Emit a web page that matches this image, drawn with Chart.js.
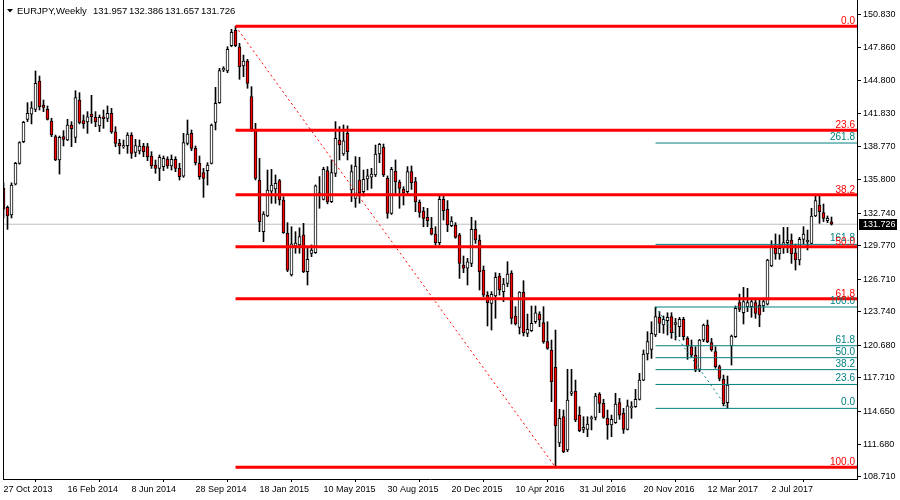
<!DOCTYPE html>
<html><head><meta charset="utf-8">
<script src="https://cdn.jsdelivr.net/npm/chart.js@4.4.1/dist/chart.umd.min.js"></script>
<style>html,body{margin:0;padding:0;background:#fff;}#wrap{width:900px;height:500px;}</style>
</head><body><div id="wrap"><canvas id="c" width="900" height="500"></canvas></div>
<script>
// ---- data ----
const symbolTitle = 'EURJPY,Weekly';
const lastBar = ['131.957', '132.386', '131.657', '131.726'];
const dateLabels = ['27 Oct 2013','16 Feb 2014','8 Jun 2014','28 Sep 2014','18 Jan 2015','10 May 2015','30 Aug 2015','20 Dec 2015','10 Apr 2016','31 Jul 2016','20 Nov 2016','12 Mar 2017','2 Jul 2017'];
const weeksPerLabel = 16;
const priceTicks = [150.830,147.860,144.800,141.830,138.770,135.800,132.740,129.770,126.710,123.740,120.680,117.710,114.650,111.680,108.710];

const opens = [135.0,133.27,132.57,135.39,137.28,139.25,141.29,141.75,142.2,144.78,
142.6,142.2,141.14,139.71,137.58,139.71,139.41,140.77,139.65,143.05,
141.17,141.05,141.78,141.47,140.68,141.53,141.38,141.84,140.14,139.1,
138.77,138.89,139.86,138.28,138.4,138.86,138.8,137.95,137.13,136.82,
136.97,137.67,137.04,137.64,136.82,136.12,139.1,140.01,138.65,137.28,
136.43,136.61,137.28,141.0,142.81,145.79,145.7,148.0,149.4,147.91,
146.15,146.61,143.36,140.2,135.76,131.05,132.48,134.75,134.94,135.7,
133.94,130.9,127.1,129.75,129.84,130.75,127.4,129.07,129.13,134.4,
134.0,136.61,133.79,136.37,139.41,138.13,140.02,134.85,134.09,135.76,
134.7,135.85,136.01,136.22,138.13,138.74,135.92,132.72,136.58,135.58,
134.91,134.7,136.52,135.61,133.72,132.93,132.36,131.35,130.84,130.05,
134.0,133.09,131.6,131.66,130.75,128.01,127.71,128.16,131.26,130.29,
127.55,125.27,124.51,125.18,127.01,125.58,126.34,127.25,123.36,122.33,
125.52,121.78,122.02,122.84,123.54,122.75,121.02,120.26,118.68,111.78,
114.2,111.14,116.3,116.52,114.33,113.03,113.03,114.0,114.12,116.25,
115.4,114.03,113.42,113.63,115.46,114.49,113.03,115.0,115.1,115.76,
117.52,119.9,120.32,121.63,123.24,122.54,122.93,123.3,122.6,122.39,
123.06,121.32,120.56,119.8,118.43,121.17,122.54,120.93,120.11,118.74,
117.59,115.46,120.63,121.48,124.58,123.66,124.21,124.21,124.58,124.36,
124.27,124.45,127.92,129.53,129.01,129.68,130.05,130.29,129.13,128.47,
130.35,130.11,129.98,132.48,133.48,132.78,132.05,131.957];
const highs = [135.5,133.4,135.5,137.37,139.25,141.11,142.81,142.9,145.7,145.24,
143.05,142.51,141.38,139.86,139.77,140.26,141.29,141.08,143.9,143.72,
141.69,141.99,143.48,141.99,141.69,142.14,142.51,142.29,140.62,139.47,
139.41,140.07,140.07,139.47,139.41,139.1,139.1,138.34,137.58,138.04,
137.95,137.88,138.04,137.88,137.28,140.01,141.23,140.32,138.86,137.95,
136.82,137.34,140.87,144.21,145.94,146.09,147.91,149.5,149.78,148.22,
147.15,146.76,144.27,140.93,137.73,132.87,136.67,136.73,136.22,135.82,
134.24,131.87,131.5,131.05,131.4,131.81,129.68,129.84,135.31,136.07,
136.92,136.98,137.59,141.08,140.63,140.78,140.69,137.13,137.89,137.83,
136.67,136.74,136.83,138.95,139.1,139.04,136.13,136.92,137.59,135.76,
135.15,136.98,137.04,136.0,133.94,133.27,133.18,132.36,131.5,134.39,
134.39,133.88,132.42,131.87,130.9,128.83,128.62,132.36,132.05,130.75,
127.92,125.58,125.58,127.31,127.25,126.79,128.31,127.49,124.21,125.58,
126.58,123.54,124.27,124.27,123.75,124.21,122.84,121.17,122.08,114.85,
114.79,118.5,118.5,117.52,115.09,114.18,114.18,114.24,116.31,116.37,
115.76,114.79,114.33,116.31,115.85,114.94,115.7,115.55,116.67,118.13,
120.26,121.93,122.84,124.18,123.75,123.36,123.66,123.66,123.15,123.24,
123.24,121.48,121.17,120.56,121.23,122.63,122.99,121.32,120.56,118.89,
117.98,117.89,121.63,124.27,125.36,125.97,125.88,124.97,124.97,124.82,
124.88,128.53,130.23,130.84,130.75,131.44,131.44,130.84,129.92,130.53,
131.5,131.2,133.18,134.39,134.39,133.57,132.48,132.386];
const lows = [132.3,131.26,132.3,135.3,137.2,139.16,141.08,140.87,141.99,142.14,
141.99,141.23,139.71,137.52,136.3,138.86,139.35,138.8,139.16,140.87,
140.47,140.01,140.93,140.62,140.17,140.47,141.08,140.01,138.8,138.13,
138.65,138.19,137.73,137.88,138.13,137.88,137.52,136.82,136.37,135.7,
136.61,136.82,136.67,136.52,135.76,136.0,138.95,138.43,137.13,135.82,
134.18,135.3,137.22,140.32,142.75,145.64,145.54,147.91,147.91,144.94,
145.18,144.12,140.2,135.76,131.05,130.14,132.42,133.63,133.63,133.48,
130.9,127.4,127.0,129.08,129.08,127.31,126.19,128.77,129.07,133.18,
133.94,133.58,133.7,136.07,137.59,138.0,137.59,133.79,133.27,133.64,
134.3,134.85,135.0,136.07,137.34,136.07,132.27,132.62,134.55,133.18,
133.48,134.39,134.9,132.87,132.36,131.5,131.5,130.75,129.83,129.83,
132.11,131.05,131.5,130.45,126.79,127.31,126.19,127.86,129.98,125.73,
125.12,122.45,122.08,123.15,125.27,124.67,126.03,122.63,122.54,121.72,
121.54,121.48,121.95,122.69,122.39,120.87,120.32,115.55,109.57,111.45,
110.9,110.99,116.1,113.73,112.81,112.72,112.36,112.97,113.88,114.55,
114.03,112.12,112.36,113.57,113.94,112.66,112.97,114.03,115.03,115.7,
117.46,119.35,119.5,121.48,121.84,121.78,121.63,121.32,121.17,121.48,
121.17,119.41,119.65,118.28,118.28,121.02,120.93,120.15,118.6,117.45,
115.16,114.94,118.89,121.4,123.76,122.63,123.76,123.24,123.15,122.39,
123.76,124.36,127.86,128.53,128.53,129.07,129.13,128.16,127.55,128.01,
129.92,129.38,129.92,132.42,131.81,131.96,131.87,131.657];
const closes = [133.1,132.48,135.3,137.28,139.16,141.02,141.84,142.35,144.57,142.45,
142.38,141.29,139.86,137.58,139.65,139.47,140.77,140.44,143.27,140.99,
140.87,141.53,141.53,141.08,141.47,141.35,141.84,140.14,139.1,138.89,
138.89,139.86,138.19,138.89,138.86,138.34,137.88,137.07,136.82,137.82,
137.73,137.04,137.64,136.82,136.06,139.16,139.95,138.65,137.34,136.06,
135.91,137.13,140.77,142.75,145.73,145.94,147.67,149.22,148.0,146.09,
146.61,144.57,140.4,135.91,131.96,132.66,134.85,135.3,135.45,133.94,
130.96,127.55,129.93,130.0,130.59,127.4,128.53,129.38,135.22,134.6,
136.74,133.79,136.43,139.56,138.95,139.32,138.35,136.52,137.04,134.55,
135.82,136.13,136.31,138.13,139.01,136.22,132.72,136.74,135.61,135.0,
134.55,136.52,135.52,133.78,132.81,132.26,132.05,130.81,130.05,134.0,
132.96,131.66,132.02,130.53,128.16,127.71,128.31,131.26,130.29,127.4,
125.27,124.58,125.33,126.88,125.73,126.28,127.19,123.15,122.63,125.55,
121.84,122.14,122.69,123.66,123.0,121.02,120.41,117.37,113.33,114.03,
110.99,115.7,116.45,113.88,112.9,113.21,113.51,114.1,116.07,115.4,
114.12,113.42,113.94,115.34,114.33,113.03,115.16,115.1,115.76,117.52,
119.9,121.02,121.78,123.3,122.69,123.06,123.24,121.84,122.75,123.06,
121.48,120.62,119.8,118.43,121.17,122.54,121.02,120.26,118.74,117.67,
115.34,117.07,121.54,124.06,123.97,124.67,124.58,124.67,123.6,123.45,
124.67,128.47,129.74,129.01,129.53,130.05,130.29,129.01,128.47,130.35,
130.84,130.29,132.48,133.88,132.87,132.26,132.26,131.726];

const bidPrice = 131.726;
// Fibonacci retracement 1 (red): high 149.78 at week 58, low 109.57 at week 138
const redFibHigh = 149.78, redFibLow = 109.57, redFibFrom = 58, redFibTo = 138;
const redFibLevels = [0.0, 23.6, 38.2, 50.0, 61.8, 100.0];
// Fibonacci 2 (teal): 100 at 124.18 (week 163), 0 at 114.94 (week 181)
const tealFib100 = 124.18, tealFib0 = 114.94, tealFibFrom = 163, tealFibTo = 181;
const tealFibLevels = [0.0, 23.6, 38.2, 50.0, 61.8, 100.0, 161.8, 261.8];

// ---- chart ----
const X_MIN = -0.125, X_MAX = 213.375;
const redPrice = v => redFibHigh - v / 100 * (redFibHigh - redFibLow);
const tealPrice = v => tealFib0 + v / 100 * (tealFib100 - tealFib0);
const RED = '#ff0000', TEAL = '#008080';

const datasets = [];
datasets.push({
  type: 'bar', label: 'body', order: 1, grouped: false,
  data: opens.map((o, i) => ({x: i, y: [o, closes[i]]})),
  backgroundColor: opens.map((o, i) => closes[i] >= o ? '#ffffff' : RED),
  borderColor: '#000', borderWidth: 1, borderSkipped: false, barThickness: 3
});
datasets.push({
  type: 'bar', label: 'wick', order: 2, grouped: false,
  data: lows.map((l, i) => ({x: i, y: [l, highs[i]]})),
  backgroundColor: '#000', borderWidth: 0, barThickness: 1
});
datasets.push({
  type: 'line', label: 'bid', order: 3,
  data: [{x: X_MIN, y: bidPrice}, {x: X_MAX, y: bidPrice}],
  borderColor: '#c0c0c0', borderWidth: 1, pointRadius: 0
});
tealFibLevels.forEach(v => datasets.push({
  type: 'line', order: 0,
  data: [{x: tealFibFrom, y: tealPrice(v)}, {x: X_MAX, y: tealPrice(v)}],
  borderColor: TEAL, borderWidth: 1, pointRadius: 0
}));
datasets.push({
  type: 'line', order: 0,
  data: [{x: tealFibFrom, y: tealFib100}, {x: tealFibTo, y: tealFib0}],
  borderColor: TEAL, borderWidth: 1, borderDash: [2, 3], pointRadius: 0
});
redFibLevels.forEach(v => datasets.push({
  type: 'line', order: 0,
  data: [{x: redFibFrom, y: redPrice(v)}, {x: X_MAX, y: redPrice(v)}],
  borderColor: RED, borderWidth: 3, pointRadius: 0
}));
datasets.push({
  type: 'line', order: 0,
  data: [{x: redFibFrom, y: redFibHigh}, {x: redFibTo, y: redFibLow}],
  borderColor: RED, borderWidth: 1, borderDash: [2, 3], pointRadius: 0
});

const FONT = '"Liberation Sans", Arial, sans-serif';

const overlay = {
  id: 'overlay',
  afterDraw(chart) {
    const {ctx, chartArea: a, scales: {y}} = chart;
    ctx.save();
    // left frame
    ctx.strokeStyle = '#000'; ctx.lineWidth = 1;
    ctx.beginPath(); ctx.moveTo(a.left + 0.5, a.top); ctx.lineTo(a.left + 0.5, a.bottom); ctx.stroke();
    // fib level labels
    ctx.font = '10px ' + FONT; ctx.textAlign = 'right'; ctx.textBaseline = 'alphabetic';
    ctx.fillStyle = TEAL;
    tealFibLevels.forEach(v => ctx.fillText(v.toFixed(1), a.right - 2, Math.round(y.getPixelForValue(tealPrice(v))) - 3));
    ctx.fillStyle = RED;
    redFibLevels.forEach(v => ctx.fillText(v.toFixed(1), a.right - 2, Math.round(y.getPixelForValue(redPrice(v))) - 2));
    // bid price box
    const py = Math.round(y.getPixelForValue(bidPrice));
    ctx.fillStyle = '#000';
    ctx.fillRect(a.right + 2, py - 5, 38, 11);
    ctx.fillStyle = '#fff'; ctx.textAlign = 'left'; ctx.textBaseline = 'middle';
    ctx.font = '9px ' + FONT;
    ctx.fillText(bidPrice.toFixed(3), a.right + 6, py + 0.5);
    // title
    ctx.fillStyle = '#000';
    ctx.beginPath(); ctx.moveTo(7, 9); ctx.lineTo(13, 9); ctx.lineTo(10, 12.5); ctx.closePath(); ctx.fill();
    ctx.font = '9.5px ' + FONT; ctx.textBaseline = 'alphabetic'; ctx.textAlign = 'left';
    ctx.fillText(symbolTitle, 17, 14);
    [93, 129, 165, 201].forEach((tx, k) => ctx.fillText(lastBar[k], tx, 14));
    ctx.restore();
  }
};

new Chart(document.getElementById('c'), {
  type: 'bar',
  data: {datasets},
  options: {
    responsive: false, animation: false, devicePixelRatio: 1,
    layout: {padding: {left: 3, top: 0, right: 0, bottom: 0}},
    plugins: {legend: {display: false}, tooltip: {enabled: false}},
    scales: {
      x: {
        type: 'linear', min: X_MIN, max: X_MAX, offset: false,
        grid: {drawOnChartArea: false, drawTicks: true, tickLength: 3, color: '#000'},
        border: {display: true, color: '#000'},
        ticks: {autoSkip: false, maxRotation: 0, minRotation: 0, align: 'start', padding: 2, color: '#000',
          font: {family: FONT, size: 9},
          callback: v => dateLabels[Math.round(v / weeksPerLabel)] || ''},
        afterBuildTicks: s => { s.ticks = dateLabels.map((_, k) => ({value: k * weeksPerLabel})); },
        afterFit: s => { s.height = 21; s.paddingLeft = 0; s.paddingRight = 0; }
      },
      y: {
        type: 'linear', position: 'right', min: 108.50, max: 152.17,
        grid: {drawOnChartArea: false, drawTicks: true, tickLength: 4, color: '#000'},
        border: {display: true, color: '#000'},
        ticks: {autoSkip: false, padding: 2, color: '#000', font: {family: FONT, size: 9},
          callback: v => Number(v).toFixed(3)},
        afterBuildTicks: s => { s.ticks = priceTicks.map(v => ({value: v})); },
        afterFit: s => { s.width = 43; s.paddingTop = 0; s.paddingBottom = 0; }
      }
    }
  },
  plugins: [overlay]
});
</script>
</body></html>
